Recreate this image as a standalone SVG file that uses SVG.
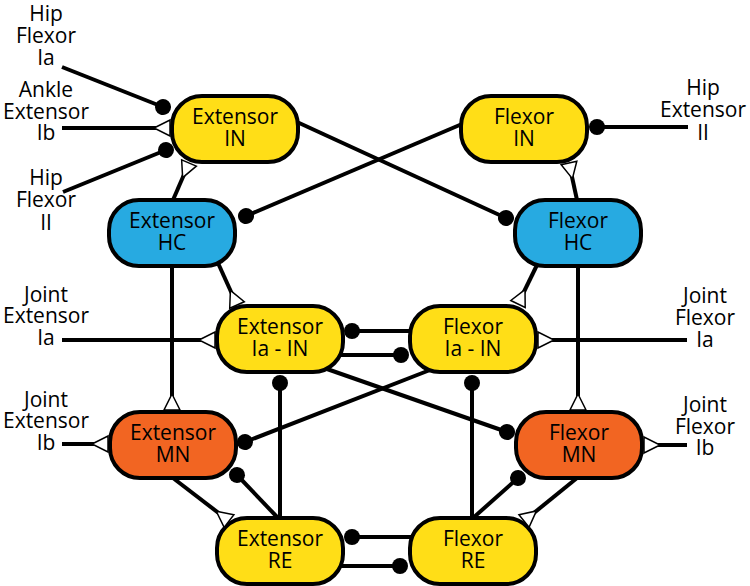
<svg xmlns="http://www.w3.org/2000/svg" width="750" height="586" viewBox="0 0 750 586">
<style>
.n rect{stroke:#000;stroke-width:4}
.y rect{fill:#FFDE17}
.b rect{fill:#27AAE1}
.o rect{fill:#F26522}
text{font-family:"Open Sans","Noto Sans",sans-serif;font-size:21px;text-anchor:middle;fill:#000}
.c line{stroke:#000;stroke-width:4;fill:none}
.c line.i{marker-end:url(#dot)}
.c line.e{marker-end:url(#tri)}
</style>
<defs>
<marker id="dot" markerUnits="userSpaceOnUse" viewBox="-9 -9 18 18" markerWidth="18" markerHeight="18" refX="0" refY="0" orient="auto" overflow="visible">
<circle cx="0" cy="0" r="8" fill="#000"/>
</marker>
<marker id="tri" markerUnits="userSpaceOnUse" viewBox="-1 -10 19 20" markerWidth="19" markerHeight="20" refX="16" refY="0" orient="auto" overflow="visible">
<path d="M0,0 L16,-8 L16,8 Z" fill="#fff" stroke="#000" stroke-width="1.5" stroke-linejoin="miter"/>
</marker>
</defs>

<g id="nodes">
<g id="extensor-in" class="n y"><rect x="172" y="96" width="126" height="66" rx="30" ry="30"/><text x="235" y="124">Extensor<tspan x="235" dy="22">IN</tspan></text></g>
<g id="flexor-in" class="n y"><rect x="461" y="96" width="126" height="66" rx="30" ry="30"/><text x="524" y="124">Flexor<tspan x="524" dy="22">IN</tspan></text></g>
<g id="extensor-hc" class="n b"><rect x="109" y="200" width="126" height="66" rx="30" ry="30"/><text x="172" y="228">Extensor<tspan x="172" dy="22">HC</tspan></text></g>
<g id="flexor-hc" class="n b"><rect x="515" y="200" width="126" height="66" rx="30" ry="30"/><text x="578" y="228">Flexor<tspan x="578" dy="22">HC</tspan></text></g>
<g id="extensor-ia-in" class="n y"><rect x="217" y="306" width="126" height="66" rx="30" ry="30"/><text x="280" y="334">Extensor<tspan x="280" dy="22">Ia - IN</tspan></text></g>
<g id="flexor-ia-in" class="n y"><rect x="410" y="306" width="126" height="66" rx="30" ry="30"/><text x="473" y="334">Flexor<tspan x="473" dy="22">Ia - IN</tspan></text></g>
<g id="extensor-mn" class="n o"><rect x="110" y="412" width="126" height="66" rx="30" ry="30"/><text x="173" y="440">Extensor<tspan x="173" dy="22">MN</tspan></text></g>
<g id="flexor-mn" class="n o"><rect x="516" y="412" width="126" height="66" rx="30" ry="30"/><text x="579" y="440">Flexor<tspan x="579" dy="22">MN</tspan></text></g>
<g id="extensor-re" class="n y"><rect x="217" y="518" width="126" height="66" rx="30" ry="30"/><text x="280" y="546">Extensor<tspan x="280" dy="22">RE</tspan></text></g>
<g id="flexor-re" class="n y"><rect x="410" y="518" width="126" height="66" rx="30" ry="30"/><text x="473" y="546">Flexor<tspan x="473" dy="22">RE</tspan></text></g>
</g>

<g id="connectors" class="c">
<line class="i" x1="62" y1="67" x2="163" y2="107"/>
<line class="e" x1="62" y1="128" x2="170" y2="128"/>
<line class="i" x1="63" y1="192" x2="166" y2="150"/>
<line class="e" x1="173" y1="200" x2="189" y2="163"/>
<line class="i" x1="297" y1="122" x2="506" y2="218"/>
<line class="i" x1="462" y1="124" x2="246" y2="216"/>
<line class="i" x1="688" y1="127" x2="597" y2="127"/>
<line class="e" x1="577" y1="200" x2="569" y2="163"/>
<line class="e" x1="218" y1="263" x2="237" y2="305"/>
<line class="e" x1="172" y1="266" x2="172" y2="410"/>
<line class="e" x1="62" y1="340" x2="215" y2="340"/>
<line class="e" x1="62" y1="444" x2="108" y2="444"/>
<line class="i" x1="411" y1="331" x2="352" y2="331"/>
<line class="i" x1="340" y1="355" x2="401" y2="355"/>
<line class="i" x1="327" y1="369" x2="507" y2="432"/>
<line class="i" x1="430" y1="370" x2="245" y2="442"/>
<line class="i" x1="280" y1="518" x2="280" y2="383"/>
<line class="i" x1="472" y1="518" x2="472" y2="383"/>
<line class="e" x1="537" y1="265" x2="518" y2="304"/>
<line class="e" x1="578" y1="266" x2="578" y2="410"/>
<line class="e" x1="687" y1="340" x2="538" y2="340"/>
<line class="e" x1="687" y1="445" x2="644" y2="445"/>
<line class="e" x1="173" y1="478" x2="229" y2="521"/>
<line class="i" x1="278" y1="518" x2="237" y2="475"/>
<line class="e" x1="577" y1="478" x2="524" y2="521"/>
<line class="i" x1="473" y1="518" x2="518" y2="478"/>
<line class="i" x1="412" y1="537" x2="352" y2="537"/>
<line class="i" x1="340" y1="566" x2="400" y2="566"/>
</g>

<g id="labels">
<text x="46" y="21">Hip<tspan x="46" dy="22">Flexor</tspan><tspan x="46" dy="22">Ia</tspan></text>
<text x="46" y="97">Ankle<tspan x="46" dy="22">Extensor</tspan><tspan x="46" dy="21">Ib</tspan></text>
<text x="46" y="185">Hip<tspan x="46" dy="22">Flexor</tspan><tspan x="46" dy="23">II</tspan></text>
<text x="46" y="302">Joint<tspan x="46" dy="21">Extensor</tspan><tspan x="46" dy="22">Ia</tspan></text>
<text x="46" y="407">Joint<tspan x="46" dy="21">Extensor</tspan><tspan x="46" dy="22">Ib</tspan></text>
<text x="703" y="95">Hip<tspan x="703" dy="22">Extensor</tspan><tspan x="703" dy="23">II</tspan></text>
<text x="705" y="303">Joint<tspan x="705" dy="22">Flexor</tspan><tspan x="705" dy="22">Ia</tspan></text>
<text x="705" y="412">Joint<tspan x="705" dy="22">Flexor</tspan><tspan x="705" dy="21">Ib</tspan></text>
</g>
</svg>
